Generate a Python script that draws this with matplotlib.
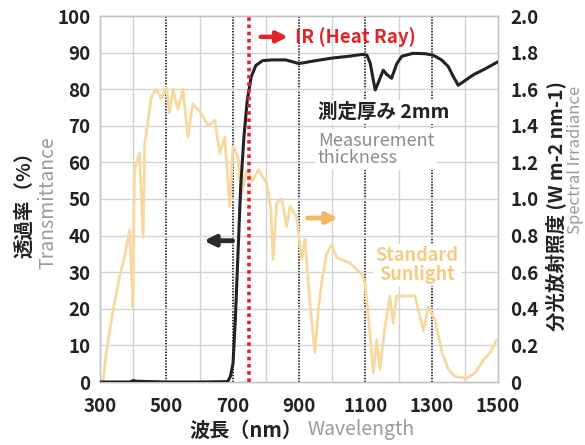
import matplotlib.pyplot as plt
from matplotlib.ticker import FixedLocator

plt.rcParams['font.family'] = ['Noto Sans CJK JP', 'DejaVu Sans']

# transmittance of the 2mm sample (%)
trans_nm = [300, 350, 390, 400, 410, 500, 600, 680, 686, 693, 701, 708, 716, 724,
            734, 744, 756, 770, 790, 820, 860, 900, 950, 1000, 1050, 1090, 1105,
            1115, 1124, 1130, 1140, 1154, 1165, 1179, 1195, 1210, 1244, 1280, 1304,
            1330, 1350, 1365, 1380, 1395, 1425, 1460, 1500]
trans_pct = [0, 0, 0, 0.4, 0.2, 0, 0, 0.1, 0.3, 1.5, 5, 17, 35, 53,
             67, 77, 83.4, 86.5, 87.8, 88, 88, 87, 87.8, 88.5, 89, 89.5, 89.3,
             87, 82.5, 79.8, 82, 85.2, 84, 83, 87, 89, 89.8, 89.7, 89.3,
             88, 86.2, 83.5, 81.1, 82, 83.9, 85.5, 87.5]

# standard sunlight spectral irradiance (W m-2 nm-1)
sun_nm = [309, 319, 339, 359, 374, 389, 395, 399, 404, 419, 430, 435, 455, 470,
          485, 500, 510, 520, 535, 550, 565, 580, 605, 626, 646, 661, 676, 691,
          701, 716, 726, 740, 760, 777, 802, 815, 822, 833, 848, 863, 873, 893,
          908, 918, 933, 948, 958, 968, 983, 998, 1014, 1054, 1089, 1099, 1109,
          1124, 1134, 1144, 1159, 1174, 1184, 1194, 1224, 1250, 1260, 1275, 1290,
          1310, 1330, 1350, 1370, 1405, 1431, 1456, 1476, 1496]
sun_irr = [0, 0.16, 0.39, 0.575, 0.685, 0.83, 0.6, 0.41, 1.16, 1.25, 0.79, 1.30, 1.56, 1.60,
           1.55, 1.61, 1.47, 1.60, 1.49, 1.60, 1.34, 1.52, 1.47, 1.40, 1.43, 1.25, 1.34, 0.96,
           1.29, 1.23, 1.01, 1.15, 1.1, 1.16, 1.09, 0.95, 0.67, 0.98, 1.0, 0.85, 0.96, 0.90,
           0.67, 0.78, 0.43, 0.16, 0.39, 0.54, 0.70, 0.75, 0.68, 0.65, 0.59, 0.54, 0.36,
           0.05, 0.23, 0.07, 0.30, 0.47, 0.32, 0.47, 0.47, 0.47, 0.39, 0.28, 0.41,
           0.34, 0.17, 0.07, 0.03, 0.02, 0.05, 0.12, 0.16, 0.23]

x_ticks = [300, 500, 700, 900, 1100, 1300, 1500]
left_ticks = [0, 10, 20, 30, 40, 50, 60, 70, 80, 90, 100]
right_ticks = [0, 0.2, 0.4, 0.6, 0.8, 1.0, 1.2, 1.4, 1.6, 1.8, 2.0]
right_labels = ['0', '0.2', '0.4', '0.6', '0.8', '1.0', '1.2', '1.4', '1.6', '1.8', '2.0']
ir_edge = 750

RED = '#e3232c'
SUN = '#f7d89e'
SUN_TXT = '#f5cb86'
GREY_TXT = '#8c8c8c'

fig = plt.figure(figsize=(5.85, 4.45), dpi=100)
ax = fig.add_axes([100 / 585, 63 / 445, 398 / 585, 366 / 445])
ax2 = ax.twinx()
ax.set_zorder(2)
ax.patch.set_visible(False)
ax2.set_zorder(1)

ax.set_xlim(300, 1500)
ax.set_ylim(0, 100)
ax2.set_ylim(0, 2.0)

# grid on the lower axes
for v in range(400, 1500, 100):
    if v % 200 == 100:
        ax2.axvline(v, color='#222222', lw=1.3, ls=(0, (0.8, 0.8)), zorder=1)
    else:
        ax2.axvline(v, color='#d2d2d2', lw=1.0, zorder=1)
for h in right_ticks[1:-1]:
    ax2.axhline(h, color='#d2d2d2', lw=1.0, zorder=1)

ax2.plot(sun_nm, sun_irr, color=SUN, lw=2.0, zorder=2)

ax.plot(trans_nm, trans_pct, color='#222222', lw=2.2, zorder=3, solid_joinstyle='round')
ax.axvline(ir_edge, color=RED, lw=2.6, ls=(0, (1, 1)), zorder=4)

for a in (ax, ax2):
    for s in a.spines.values():
        s.set_color('#c4c4c4')
        s.set_linewidth(1.0)

ax.xaxis.set_major_locator(FixedLocator(x_ticks))
ax.set_yticks(left_ticks)
ax2.set_yticks(right_ticks)
ax2.set_yticklabels(right_labels)
ax.tick_params(axis='x', length=0, pad=11, labelsize=13.5, labelcolor='#222222')
ax.tick_params(axis='y', length=0, pad=7, labelsize=13.5, labelcolor='#222222')
ax2.tick_params(axis='y', length=0, pad=9, labelsize=13.5, labelcolor='#222222')
for lab in ax.get_xticklabels() + ax.get_yticklabels() + ax2.get_yticklabels():
    lab.set_fontweight('bold')

# annotations
ax.annotate('', xy=(875, 94.3), xytext=(776, 94.3),
            arrowprops=dict(arrowstyle='-|>', color=RED, lw=3.2, mutation_scale=16))
ax.text(888, 94.3, 'IR (Heat Ray)', color=RED, fontsize=13.5, fontweight='bold',
        va='center', ha='left')

ax.annotate('', xy=(605, 38.6), xytext=(708, 38.6),
            arrowprops=dict(arrowstyle='-|>', color='#2a2a2a', lw=3.5, mutation_scale=16))
ax.annotate('', xy=(1026, 44.8), xytext=(918, 44.8),
            arrowprops=dict(arrowstyle='-|>', color='#f4b862', lw=3.5, mutation_scale=16))

bx = dict(facecolor='white', edgecolor='none', pad=2)
ax.text(957, 73.8, '測定厚み 2mm', color='#222222', fontsize=14, fontweight='bold',
        va='center', ha='left', bbox=bx, zorder=2.5)
ax.text(957, 63.5, 'Measurement\nthickness', color=GREY_TXT, fontsize=13,
        va='center', ha='left', linespacing=0.95, bbox=bx, zorder=2.5)
ax.text(1256, 32, 'Standard\nSunlight', color=SUN_TXT, fontsize=13, fontweight='bold',
        va='center', ha='center', linespacing=0.95, bbox=bx, zorder=2.5)

# axis labels
fig.text(25 / 585, 1 - 200 / 445, '透過率（%）', rotation=90, fontsize=14,
         fontweight='bold', color='#222222', ha='center', va='center')
fig.text(48 / 585, 1 - 203 / 445, 'Transmittance', rotation=90, fontsize=14,
         color='#9a9a9a', ha='center', va='center')
fig.text(557 / 585, 1 - 206 / 445, '分光放射照度 (W m-2 nm-1)', rotation=90, fontsize=14,
         fontweight='bold', color='#222222', ha='center', va='center')
fig.text(576 / 585, 1 - 160 / 445, 'Spectral Irradiance', rotation=90, fontsize=12,
         color='#9a9a9a', ha='center', va='center')
fig.text(302 / 585, 1 - 430 / 445, '波長（nm）', fontsize=14.5, fontweight='bold',
         color='#222222', ha='right', va='center')
fig.text(307 / 585, 1 - 430 / 445, 'Wavelength', fontsize=14, color='#9a9a9a',
         ha='left', va='center')

fig.savefig('out.png', dpi=100, facecolor='white')
